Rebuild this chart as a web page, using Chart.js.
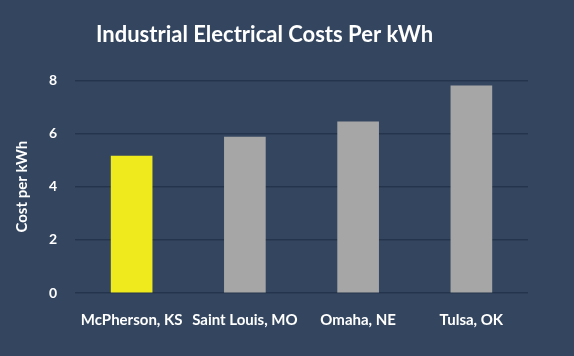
<!DOCTYPE html>
<html>
<head>
<meta charset="utf-8">
<script src="https://cdn.jsdelivr.net/npm/chart.js@4.4.0/dist/chart.umd.min.js"></script>
<style>
  html, body { margin: 0; padding: 0; background: #34465f; }
  #wrap { width: 574px; height: 356px; position: relative; }
</style>
</head>
<body>
<div id="wrap"><canvas id="c" width="574" height="356"></canvas></div>
<script>
const categories = ["McPherson, KS", "Saint Louis, MO", "Omaha, NE", "Tulsa, OK"];
const costValues = [5.15, 5.87, 6.44, 7.8];
const barColors = ["#eeea1e", "#a6a6a6", "#a6a6a6", "#a6a6a6"];
const yTicks = [0, 2, 4, 6, 8];
const titleText = "Industrial Electrical Costs Per kWh";
const yAxisTitle = "Cost per kWh";

new Chart(document.getElementById("c"), {
  type: "bar",
  data: {
    labels: categories,
    datasets: [{
      data: costValues,
      backgroundColor: barColors,
      borderWidth: 0,
      barThickness: 41
    }]
  },
  options: {
    responsive: false,
    animation: false,
    devicePixelRatio: 1,
    layout: { padding: { left: 1, right: 46, top: 0, bottom: 17 } },
    plugins: {
      legend: { display: false },
      tooltip: { enabled: false },
      title: {
        display: true,
        text: titleText,
        color: "#ffffff",
        font: { family: "Lato", size: 22, weight: "bold" },
        padding: { top: 22, bottom: 32 }
      }
    },
    scales: {
      x: {
        grid: { display: false },
        border: { display: false },
        ticks: {
          color: "#ffffff",
          font: { family: "Lato", size: 15, weight: "bold" },
          padding: 10,
          maxRotation: 0,
          autoSkip: false
        }
      },
      y: {
        min: 0,
        max: 8,
        afterBuildTicks: (axis) => { axis.ticks = yTicks.map(v => ({ value: v })); },
        afterFit: (axis) => { axis.width = 74; },
        grid: { color: "#24344c", lineWidth: 1.5, drawTicks: false },
        border: { display: false },
        ticks: {
          color: "#ffffff",
          font: { family: "Lato", size: 14, weight: "bold" },
          padding: 18
        },
        title: {
          display: true,
          text: yAxisTitle,
          color: "#ffffff",
          font: { family: "Lato", size: 15, weight: "bold" },
          padding: { top: 12, bottom: 2 }
        }
      }
    }
  }
});
</script>
</body>
</html>
